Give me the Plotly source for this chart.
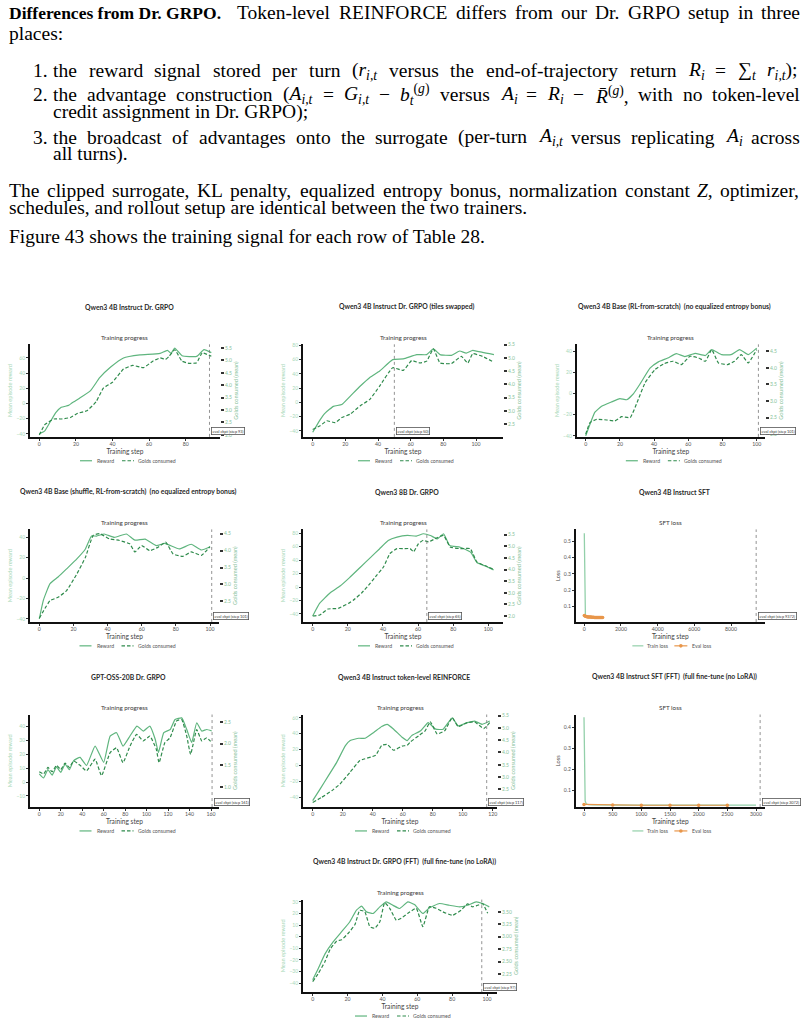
import re
import plotly.graph_objects as go

W, H = 807, 1023

# ---------------- data ----------------
# Qwen3 4B Instruct Dr. GRPO
p1_reward_steps = [0, 3, 6, 9, 12, 16, 18, 22, 28, 33, 39, 46, 55, 66, 70, 72, 74, 78, 86, 90, 94]
p1_reward = [-40, -36, -24, -12, -5, -2.5, 1, 7, 17, 34, 48, 60, 64, 66, 70, 66, 73, 63, 62, 71, 67]
p1_gold_steps = [0, 3, 8, 12, 17, 21, 26, 31, 35, 40, 46, 51, 57, 62, 66, 69, 71, 74, 78, 82, 86, 89, 94]
p1_gold = [2.0, 2.41, 2.64, 2.64, 2.70, 2.87, 2.97, 3.33, 3.88, 4.12, 4.65, 4.80, 4.71, 4.97, 5.10, 5.04, 5.17, 5.43, 4.97, 4.88, 4.91, 5.30, 5.17]

# Qwen3 4B Instruct Dr. GRPO (tiles swapped)
p2_reward_steps = [0, 4.5, 7.6, 12.7, 17.8, 22.9, 29, 35, 41, 49, 55.5, 63.7, 69.8, 73.9, 78, 85, 90, 94, 98, 104, 111]
p2_reward = [-42, -24.5, -15, -5.6, -3, 8.5, 22.6, 35, 44, 60, 61, 67, 67, 75, 67, 66, 72, 69, 73, 70, 67]
p2_gold_steps = [0, 4.5, 8.6, 13.7, 17.8, 22.9, 29, 35, 41, 49, 55.5, 60.6, 65.7, 69.8, 73.9, 78, 85, 91, 95, 98, 104, 111]
p2_gold = [2.3, 2.44, 2.63, 2.56, 2.75, 2.88, 3.19, 3.44, 3.94, 4.63, 4.53, 4.90, 4.81, 4.88, 5.34, 4.81, 4.79, 5.06, 4.81, 5.16, 5.06, 4.84]

# Qwen3 4B Base (RL-from-scratch)
p3_reward_steps = [0, 2.5, 5.4, 9.3, 15, 20, 24, 28, 32, 37.6, 42.5, 48, 53, 58, 64, 70, 73.7, 79.5, 85, 90, 95, 100]
p3_reward = [-40, -29, -17.6, -12, -8, -4.8, -5.8, 0, 9.6, 24, 30, 33.6, 37.8, 35, 38, 36, 41.6, 36.8, 36.8, 41.6, 36.8, 43]
p3_gold_steps = [0, 2.5, 6.4, 12.3, 17, 21, 26, 30, 34.7, 40.5, 46, 51, 56, 61, 66, 70, 73.7, 77.6, 83, 87, 91, 95, 100]
p3_gold = [2.0, 2.35, 2.45, 2.43, 2.40, 2.53, 2.50, 2.95, 3.55, 3.95, 4.13, 4.20, 4.10, 4.35, 4.30, 4.20, 4.55, 4.15, 4.10, 4.20, 4.40, 4.15, 4.55]

# Qwen3 4B Base (shuffle, RL-from-scratch)
p4_reward_steps = [0, 2.4, 6.3, 11, 16, 22, 27, 30.6, 33.5, 38, 44, 51, 56, 62, 68.6, 73.5, 82, 89, 95, 100]
p4_reward = [-40, -21.6, -5.5, 1, 9, 18.7, 28.4, 41, 41, 43, 39.7, 43, 37, 38, 31.6, 33.9, 28.4, 33, 27.4, 30.6]
p4_gold_steps = [0, 6.3, 11, 16, 22, 27, 31.6, 35.5, 41, 47, 53, 56, 60, 64.7, 69.6, 74, 78.4, 84, 89, 95, 100]
p4_gold = [2.0, 2.52, 2.62, 2.82, 3.31, 3.80, 4.45, 4.50, 4.35, 4.30, 4.20, 3.96, 4.15, 4.00, 4.10, 4.25, 3.90, 3.83, 3.96, 3.86, 4.12]

# Qwen3 8B Dr. GRPO
p5_reward_steps = [0, 4, 10, 15.6, 21, 27, 33, 38, 43, 48, 54, 59, 63, 67, 71, 74.5, 78, 84, 90, 93.5, 98, 103]
p5_reward = [-43, -24, -8.5, 1.5, 14, 29, 44, 56.5, 69, 74, 76.5, 75.5, 79, 76.5, 71.5, 79, 61.5, 59, 51.5, 36.5, 31.5, 25.5]
p5_gold_steps = [0, 4, 8.7, 14.6, 20.3, 23.1, 28, 32.7, 36.5, 40.3, 44, 48, 51.7, 55.5, 57.4, 60.2, 63, 66, 69.8, 74.5, 78.3, 84, 89.7, 93.5, 98.3, 103]
p5_gold = [2.0, 2.04, 2.3, 2.33, 2.54, 2.68, 3.0, 3.4, 3.76, 4.11, 4.69, 4.9, 4.9, 4.9, 4.76, 5.11, 5.26, 5.19, 5.33, 5.47, 4.97, 4.9, 4.9, 4.33, 4.16, 4.01]

# Qwen3 4B Instruct SFT
p6_train_steps = [0, 10, 20, 30, 40, 60, 100, 200, 400, 600, 800, 1000]
p6_train_loss = [0.548, 0.35, 0.15, 0.07, 0.05, 0.045, 0.042, 0.04, 0.038, 0.037, 0.036, 0.035]
p6_eval_steps = [0, 50, 100, 150, 200, 250, 300, 350, 400, 450, 500, 550, 600, 650, 700, 750, 800, 850, 900, 950, 1000]
p6_eval_loss = [0.046, 0.042, 0.040, 0.039, 0.038, 0.038, 0.037, 0.037, 0.036, 0.036, 0.036, 0.035, 0.035, 0.035, 0.035, 0.034, 0.034, 0.034, 0.034, 0.034, 0.034]

# GPT-OSS-20B Dr. GRPO
p7_reward_steps = [0, 4, 8, 12, 16, 20, 24, 28, 32, 38, 44, 52, 60, 66, 72, 78, 84.5, 91, 97, 103, 108, 111, 116, 122, 126.5, 132.7, 137.4, 142, 146.7, 151.4, 156, 160.7]
p7_reward = [6, 3, 9, 5, 11, 7, 13, 9, 15.5, 17.9, 12, 26, 14.3, 33.3, 35.7, 26, 33.3, 40.5, 36.9, 40.5, 31, 21.4, 35.7, 38, 45.2, 46.4, 38, 28.6, 42.9, 36.9, 38, 36.9]
p7_gold_steps = [0, 4, 8, 12, 16, 20, 24, 28, 32, 38, 44, 52, 58, 66, 72, 78, 84.5, 90.7, 96.9, 103, 109, 111.6, 117, 121.8, 128, 132.7, 137.4, 141, 146.7, 151.4, 156, 160.7]
p7_gold = [1.35, 1.3, 1.45, 1.35, 1.5, 1.4, 1.55, 1.45, 1.6, 1.5, 1.37, 1.64, 1.26, 1.79, 1.9, 1.56, 1.94, 2.21, 2.06, 2.17, 1.87, 1.56, 2.02, 2.13, 2.52, 2.55, 2.17, 1.75, 2.32, 2.06, 2.13, 2.02]

# Qwen3 4B Instruct token-level REINFORCE
p8_reward_steps = [0, 4.9, 10.4, 16, 21.8, 25, 30.7, 35, 40.7, 46, 49.6, 54, 59.6, 63, 66, 72, 77, 82, 87, 93, 97, 103, 108, 113, 118]
p8_reward = [-44, -29.6, -13, 4, 25, 31.4, 34.3, 34.3, 41.6, 49, 51.8, 45.7, 35.5, 31.4, 37.6, 43.7, 53.9, 45.7, 45.7, 60, 49.8, 53.9, 55.9, 51.8, 55.9]
p8_gold_steps = [0, 6, 12.7, 18.2, 24.9, 31.5, 42, 46, 49.6, 54, 59.6, 63, 65, 70.7, 75, 78.4, 83, 88, 93, 97, 103, 108, 114, 118]
p8_gold = [1.97, 2.18, 2.45, 2.72, 3.2, 3.67, 3.89, 4.29, 4.33, 4.09, 4.26, 4.29, 4.42, 4.68, 4.88, 5.24, 4.75, 4.88, 5.41, 5.05, 5.21, 5.24, 4.97, 5.21]

# Qwen3 4B Instruct SFT (FFT)
p9_train_steps = [0, 5, 10, 20, 40, 80, 150, 300, 600, 1000, 1500, 2000, 2500, 3000]
p9_train_loss = [0.45, 0.3, 0.12, 0.05, 0.035, 0.032, 0.031, 0.03, 0.03, 0.03, 0.03, 0.03, 0.03, 0.03]
p9_eval_steps = [0, 500, 1000, 1500, 2000, 2500]
p9_eval_loss = [0.033, 0.030, 0.029, 0.029, 0.029, 0.029]

# Qwen3 4B Instruct Dr. GRPO (FFT)
p10_reward_steps = [0, 3, 7, 11.8, 16.6, 21.3, 25.1, 28, 30.9, 34.7, 38.5, 42.3, 46.1, 49.9, 54.6, 58.4, 63.2, 67, 72.7, 78.4, 84.2, 88.9, 93.7, 97.5, 101.3]
p10_reward = [-37, -28, -15, -4.3, 4.3, 12.9, 22.9, 26.3, 21.4, 20, 25.7, 30, 27, 24.3, 30, 27.7, 20, 24.9, 28.6, 27.1, 25.7, 27.1, 30, 28.6, 25.7]
p10_gold_steps = [0, 3, 7, 10, 13.7, 16.6, 20.4, 24.2, 27, 29.9, 32.8, 35.6, 38.5, 41.3, 44.2, 48, 50.8, 54.6, 59.4, 63.2, 67, 70.8, 74.6, 80.3, 85.1, 88.9, 91.7, 94.6, 97.5, 100.4]
p10_gold = [2.1, 2.25, 2.5, 2.75, 2.91, 2.94, 3.07, 3.24, 3.53, 3.5, 3.2, 3.17, 3.3, 3.68, 3.57, 3.33, 3.37, 3.47, 3.57, 3.2, 3.6, 3.57, 3.5, 3.43, 3.53, 3.66, 3.6, 3.63, 3.66, 3.47]

# ---------------- styling ----------------
REWARD = "#5fb57e"
GOLD = "#2f8b4c"
TRAIN = "#93d0aa"
EVAL = "#e8964a"
LEFT_TXT = "#a8d8b8"
RIGHT_TXT = "#86c29a"
SANS = "Lato"
SERIF = "Liberation Serif"

fig = go.Figure()


def fx(p):
    return p / W


def fy(p):
    return 1 - p / H


def rng(v1, p1, v2, p2, a, b):
    s = (p2 - p1) / (v2 - v1)
    return [v1 + (a - p1) / s, v1 + (b - p1) / s]


def ax(kind, i):
    return kind + ("" if i == 1 else str(i))


def text(x, y, s, size, color="#333", anchor="center", font=SANS):
    fig.add_annotation(x=fx(x), y=fy(y), xref="paper", yref="paper", text=s, showarrow=False,
                       xanchor=anchor, yanchor="middle", borderpad=0,
                       font=dict(family=font, size=size, color=color))


def hline(x0, x1, y, color, dash="solid", width=1.2):
    fig.add_shape(type="line", xref="paper", yref="paper", x0=fx(x0), x1=fx(x1), y0=fy(y), y1=fy(y),
                  line=dict(color=color, width=width, dash=dash))


def panel(n, geo, title, sub, eval_step, eval_label, series, rl=True):
    L, R, B = geo["L"], geo["R"], geo["B"]
    T = B - 93
    xa = ax("x", n)
    yl_i, yr_i = 2 * n - 1, 2 * n
    yl, yr = ax("y", yl_i), ax("y", yr_i)

    fig.update_layout(**{
        ax("xaxis", n): dict(
            domain=[fx(L), fx(R)], anchor=yl, range=rng(*geo["xcal"], L, R), dtick=geo["xdtick"],
            tickformat="d", showline=True, linecolor="#111", linewidth=1.8, ticks="outside", ticklen=2,
            tickcolor="#333", tickfont=dict(family=SANS, size=5.2, color="#555"), ticklabelstandoff=-1,
            showgrid=False, zeroline=False,
            title=dict(text="Training step", font=dict(family=SANS, size=6.6, color="#444"), standoff=0)),
        ax("yaxis", yl_i): dict(
            domain=[fy(B), fy(T)], anchor=xa, range=rng(*geo["lcal"], B, T), dtick=geo["ldtick"],
            showline=True, linecolor="#111", linewidth=1.8, ticks="outside", ticklen=2,
            tickcolor="#333", showgrid=False, zeroline=False,
            tickfont=dict(family=SANS, size=5, color=LEFT_TXT if rl else "#555"),
            title=dict(text="Mean episode reward" if rl else "Loss", standoff=3,
                       font=dict(family=SANS, size=5.6, color=LEFT_TXT if rl else "#444"))),
    })
    if rl:
        fig.update_layout(**{
            ax("yaxis", yr_i): dict(
                overlaying=yl, side="right", anchor=xa, range=rng(*geo["rcal"], B, T), dtick=geo["rdtick"],
                tickformat=geo.get("rfmt", ".1f"), showline=False, ticks="outside", ticklen=3,
                tickwidth=1.5, tickcolor="#333", showgrid=False, zeroline=False,
                tickfont=dict(family=SANS, size=5, color=RIGHT_TXT),
                title=dict(text="Golds consumed (mean)", standoff=3,
                           font=dict(family=SANS, size=5.6, color=RIGHT_TXT))),
        })
        rs, rv, gs, gv = series
        fig.add_trace(go.Scatter(x=rs, y=rv, xaxis=xa, yaxis=yl, mode="lines", showlegend=False,
                                 line=dict(color=REWARD, width=1.2, shape="spline", smoothing=0.4)))
        fig.add_trace(go.Scatter(x=gs, y=gv, xaxis=xa, yaxis=yr, mode="lines", showlegend=False,
                                 line=dict(color=GOLD, width=1.2, dash="3.5px,2px", shape="spline", smoothing=0.4)))
    else:
        ts, tv, es, ev = series
        fig.add_trace(go.Scatter(x=ts, y=tv, xaxis=xa, yaxis=yl, mode="lines", showlegend=False,
                                 line=dict(color=TRAIN, width=1.3)))
        fig.add_trace(go.Scatter(x=es, y=ev, xaxis=xa, yaxis=yl, mode="lines+markers", showlegend=False,
                                 line=dict(color=EVAL, width=1.2), marker=dict(size=3.5, color=EVAL)))

    # eval checkpoint marker
    fig.add_shape(type="line", xref=xa, yref=yl + " domain", x0=eval_step, x1=eval_step, y0=0, y1=1,
                  line=dict(color="#777", width=0.8, dash="dot"))
    fig.add_annotation(x=eval_step, y=0, xref=xa, yref=yl + " domain", xanchor="left", yanchor="bottom",
                       xshift=1.5, yshift=1.5, showarrow=False, text=eval_label,
                       font=dict(family=SANS, size=3.9, color="#333"),
                       bordercolor="#555", borderwidth=0.8, borderpad=0.8, bgcolor="white")

    c = (L + R) / 2
    text(c + 4, B - 131, "<b>" + title + "</b>", 6.8, "#2a2a2a")
    text(c, B - 100, sub, 6.3, "#3a3a3a")
    ly = B + 24
    if rl:
        hline(c - 45, c - 33, ly, REWARD)
        text(c - 29, ly, "Reward", 5.2, "#555", "left")
        hline(c - 3, c + 9, ly, GOLD, "3.5px,2px")
        text(c + 12, ly, "Golds consumed", 5.2, "#555", "left")
    else:
        hline(c - 38, c - 27, ly, TRAIN)
        text(c - 24, ly, "Train loss", 5.2, "#555", "left")
        hline(c + 4, c + 17, ly, EVAL)
        fig.add_shape(type="circle", xref="paper", yref="paper", fillcolor=EVAL, line=dict(width=0),
                      x0=fx(c + 8.7), x1=fx(c + 12.3), y0=fy(ly + 1.8), y1=fy(ly - 1.8))
        text(c + 21, ly, "Eval loss", 5.2, "#555", "left")


C1 = dict(L=30, R=220)
C2 = dict(L=303, R=503)
C3 = dict(L=576.7, R=765)

panel(1, dict(**C1, B=436, xcal=(0, 39.3, 80, 185.7), lcal=(60, 356.7, -40, 433), rcal=(5.5, 346.7, 2.0, 434),
              xdtick=20, ldtick=20, rdtick=0.5),
      "Qwen3 4B Instruct Dr. GRPO", "Training progress", 93, "eval ckpt (step 93)",
      (p1_reward_steps, p1_reward, p1_gold_steps, p1_gold))
panel(2, dict(**C2, B=436, xcal=(0, 312.7, 100, 476), lcal=(80, 344, -40, 430), rcal=(5.0, 356.7, 2.5, 423.3),
              xdtick=20, ldtick=20, rdtick=0.5),
      "Qwen3 4B Instruct Dr. GRPO (tiles swapped)", "Training progress", 50, "eval ckpt (step 50)",
      (p2_reward_steps, p2_reward, p2_gold_steps, p2_gold))
panel(3, dict(**C3, B=436, xcal=(0, 585.7, 100, 756.7), lcal=(40, 350, -40, 435), rcal=(4.5, 350, 2.5, 416.7),
              xdtick=20, ldtick=20, rdtick=0.5),
      "Qwen3 4B Base (RL-from-scratch) \u00a0(no equalized entropy bonus)", "Training progress", 101,
      "eval ckpt (step 101)", (p3_reward_steps, p3_reward, p3_gold_steps, p3_gold))
panel(4, dict(L=30, R=219, B=622, xcal=(0, 39.3, 100, 210), lcal=(40, 536.7, -40, 619), rcal=(4.5, 533.3, 2.0, 618.3),
              xdtick=20, ldtick=20, rdtick=0.5),
      "Qwen3 4B Base (shuffle, RL-from-scratch) \u00a0(no equalized entropy bonus)", "Training progress", 101,
      "eval ckpt (step 101)", (p4_reward_steps, p4_reward, p4_gold_steps, p4_gold))
panel(5, dict(**C2, B=622, xcal=(0, 312.7, 100, 488.3), lcal=(80, 532.7, -40, 614), rcal=(5.5, 534.3, 2.0, 616),
              xdtick=20, ldtick=20, rdtick=0.5),
      "Qwen3 8B Dr. GRPO", "Training progress", 65, "eval ckpt (step 65)",
      (p5_reward_steps, p5_reward, p5_gold_steps, p5_gold))
panel(6, dict(L=575.7, R=765, B=622, xcal=(0, 584.3, 8000, 731), lcal=(0.5, 540.7, 0.1, 606.7),
              xdtick=2000, ldtick=0.1),
      "Qwen3 4B Instruct SFT", "SFT loss", 9372, "eval ckpt (step 9372)",
      (p6_train_steps, p6_train_loss, p6_eval_steps, p6_eval_loss), rl=False)
panel(7, dict(L=30, R=219, B=808, xcal=(0, 39.3, 160, 211), lcal=(40, 727.3, 10, 769), rcal=(2.5, 722.3, 1.5, 766),
              xdtick=20, ldtick=10, rdtick=0.5),
      "GPT-OSS-20B Dr. GRPO", "Training progress", 161, "eval ckpt (step 161)",
      (p7_reward_steps, p7_reward, p7_gold_steps, p7_gold))
panel(8, dict(L=303, R=497, B=808, xcal=(0, 312.7, 120, 492.7), lcal=(60, 718.3, -40, 798.3), rcal=(5.5, 716, 2.0, 802.7),
              xdtick=20, ldtick=20, rdtick=0.5),
      "Qwen3 4B Instruct token-level REINFORCE", "Training progress", 116, "eval ckpt (step 117)",
      (p8_reward_steps, p8_reward, p8_gold_steps, p8_gold))
panel(9, dict(L=575.7, R=765, B=808, xcal=(0, 584, 3000, 756), lcal=(0.4, 728.3, 0.1, 791.3),
              xdtick=500, ldtick=0.1),
      "Qwen3 4B Instruct SFT (FFT) \u00a0(full fine-tune (no LoRA))", "SFT loss", 3072, "eval ckpt (step 3072)",
      (p9_train_steps, p9_train_loss, p9_eval_steps, p9_eval_loss), rl=False)
panel(10, dict(L=303, R=497, B=994, xcal=(0, 312.7, 100, 487), lcal=(30, 903.3, 0, 938.3), rcal=(3.75, 900.7, 3.0, 938.3),
               xdtick=20, ldtick=10, rdtick=0.25, rfmt=".2f"),
      "Qwen3 4B Instruct Dr. GRPO (FFT) \u00a0(full fine-tune (no LoRA))", "Training progress", 97,
      "eval ckpt (step 97)", (p10_reward_steps, p10_reward, p10_gold_steps, p10_gold))

# ---------------- body text (justified word by word) ----------------
TS = 19.5
CHAR_W = {" ": 250, "!": 333, "(": 333, ")": 333, ",": 250, "-": 333, ".": 250, ":": 278, ";": 278,
          "=": 564, "\u2212": 564, "\u2211": 713, "\u0304": 0,
          "A": 722, "B": 667, "C": 667, "D": 722, "E": 611, "F": 556, "G": 722, "H": 722, "I": 333,
          "J": 389, "K": 722, "L": 611, "M": 889, "N": 722, "O": 722, "P": 556, "Q": 722, "R": 667,
          "S": 556, "T": 611, "U": 722, "V": 722, "W": 944, "X": 722, "Y": 722, "Z": 611,
          "a": 444, "b": 500, "c": 444, "d": 500, "e": 444, "f": 333, "g": 500, "h": 500, "i": 278,
          "j": 278, "k": 500, "l": 278, "m": 778, "n": 500, "o": 500, "p": 500, "q": 500, "r": 333,
          "s": 389, "t": 278, "u": 500, "v": 500, "w": 722, "x": 500, "y": 500, "z": 444}
ITAL_W = {"A": 611, "G": 722, "R": 611, "Z": 556, "r": 389, "b": 500, "g": 500, "i": 278, "t": 278}


def html_width(s, size):
    bold = ital = False
    script = 0
    w = 0.0
    for tok in re.findall(r"<[^>]+>|.", s):
        if tok.startswith("<") and len(tok) > 1:
            tag = tok.strip("</>").lower()
            opening = not tok.startswith("</")
            if tag == "b":
                bold = opening
            elif tag == "i":
                ital = opening
            elif tag in ("sub", "sup"):
                script += 1 if opening else -1
            continue
        cw = ITAL_W.get(tok, CHAR_W.get(tok, 500)) if ital else CHAR_W.get(tok, 500)
        if bold:
            cw *= 1.06
        if script:
            cw *= 0.7
        w += cw
    return w * size / 1000


def justified(x0, x1, y, s, size=TS):
    words = s.split(" ")
    ws = [html_width(wd, size) for wd in words]
    gap = (x1 - x0 - sum(ws)) / (len(words) - 1)
    x = x0
    for wd, w in zip(words, ws):
        text(x, y, wd, size, "#000", "left", SERIF)
        x += w + gap


def plain(x, y, s):
    text(x, y, s, TS, "#000", "left", SERIF)


text(8, 10, "<b>Differences from Dr. GRPO.</b>", 17.5, "#000", "left", SERIF)
justified(236, 799, 10, "Token-level REINFORCE differs from our Dr. GRPO setup in three")
plain(8, 31, "places:")
justified(52, 797, 68, "the reward signal stored per turn (<i>r</i><sub><i>i,t</i></sub> versus the "
                       "end-of-trajectory return <i>R</i><sub><i>i</i></sub> = \u2211<sub><i>t</i></sub> "
                       "<i>r</i><sub><i>i,t</i></sub>);")
justified(52, 799, 92, "the advantage construction (<i>A</i><sub><i>i,t</i></sub> = <i>G</i><sub><i>i,t</i></sub> "
                       "\u2212 <i>b</i><sub><i>t</i></sub><sup>(<i>g</i>)</sup> versus <i>A</i><sub><i>i</i></sub> "
                       "= <i>R</i><sub><i>i</i></sub> \u2212 <i>R\u0304</i><sup>(<i>g</i>)</sup>, with no token-level")
plain(52, 110, "credit assignment in Dr. GRPO);")
justified(52, 799, 135, "the broadcast of advantages onto the surrogate (per-turn <i>A</i><sub><i>i,t</i></sub> "
                        "versus replicating <i>A</i><sub><i>i</i></sub> across")
plain(52, 152, "all turns).")
justified(8, 799, 188, "The clipped surrogate, KL penalty, equalized entropy bonus, normalization constant "
                       "<i>Z</i>, optimizer,")
plain(8, 206, "schedules, and rollout setup are identical between the two trainers.")
plain(8, 235, "Figure 43 shows the training signal for each row of Table 28.")
for y, s in [(68, "1."), (92, "2."), (135, "3.")]:
    text(49, y, s, TS, "#000", "right", SERIF)

fig.update_layout(width=W, height=H, margin=dict(l=0, r=0, t=0, b=0),
                  paper_bgcolor="white", plot_bgcolor="white", showlegend=False)
fig.write_html("out.html", config={"displayModeBar": False},
               post_script="document.body.style.margin = '0px';")
